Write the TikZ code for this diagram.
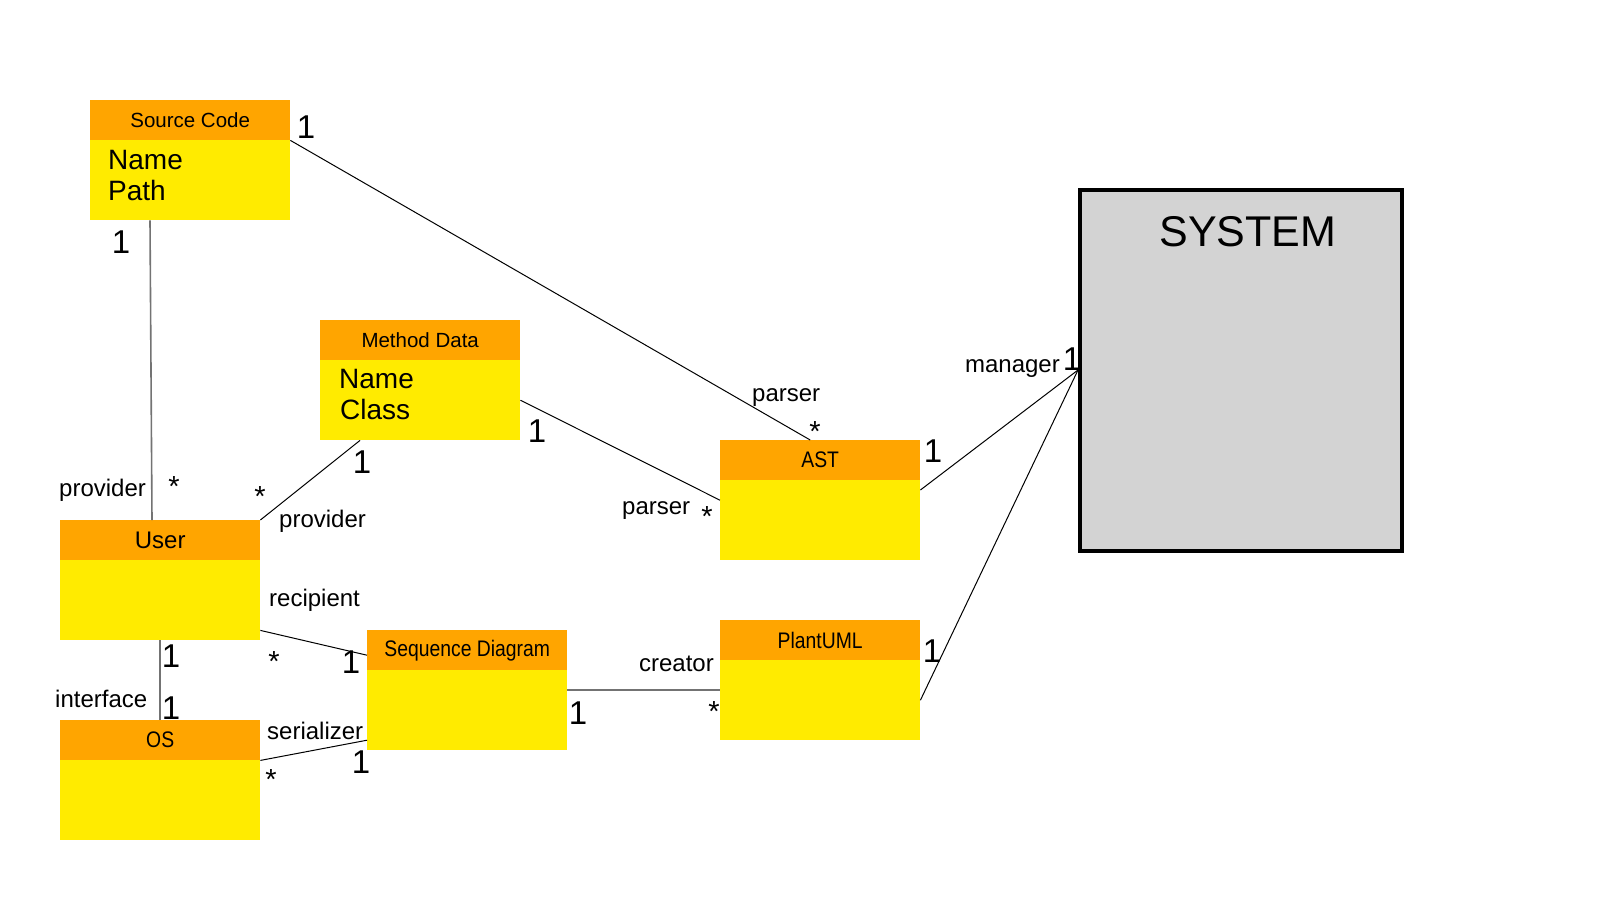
\documentclass[tikz,border=0pt]{standalone}
\usepackage{fontspec}
\setmainfont{Liberation Sans}
\newfontfamily\narrowfont[FakeStretch=0.86]{Liberation Sans}
\usetikzlibrary{calc}
\definecolor{hdr}{RGB}{255,165,0}
\definecolor{bdy}{RGB}{255,235,0}
\definecolor{sysgray}{RGB}{211,211,211}
\tikzset{
  hdrbox/.style={fill=hdr, minimum width=200pt, minimum height=40pt, inner sep=0pt, anchor=north west, font=\fontsize{20.5}{24}\selectfont},
  hdrnarrow/.style={hdrbox, font=\narrowfont\fontsize{22.5}{26}\selectfont},
  bdybox/.style={fill=bdy, minimum width=200pt, minimum height=80pt, inner sep=0pt, anchor=north west},
  bodytxt/.style={inner sep=0pt, anchor=base west, font=\fontsize{28}{31}\selectfont},
  lbl/.style={inner sep=0pt, font=\fontsize{24}{28}\selectfont},
  one/.style={inner sep=0pt, font=\fontsize{33}{36}\selectfont},
  star/.style={inner sep=0pt, font=\fontsize{29}{32}\selectfont},
  conn/.style={draw=black, line width=1pt},
  conngray/.style={draw=black!55, line width=1.6pt}
}
\begin{document}
\begin{tikzpicture}[x=1pt,y=-1pt]
\fill[white] (0,0) rectangle (1600,900);
\useasboundingbox (0,0) rectangle (1600,900);

% Classes
\node[hdrbox] (sc) at (90,100) {Source Code};
\node[bdybox] (scb) at (90,140) {};
\node[bodytxt] (scn) at (108,169) {Name};
\node[bodytxt] (scp) at (108,200) {Path};

\node[hdrbox] (md) at (320,320) {Method Data};
\node[bdybox] (mdb) at (320,360) {};
\node[bodytxt] (mdn) at (339,388) {Name};
\node[bodytxt] (mdc) at (340,419) {Class};

\node[hdrbox, font=\fontsize{24}{28}\selectfont] (user) at (60,520) {User};
\node[bdybox] (userb) at (60,560) {};

\node[hdrnarrow] (os) at (60,720) {OS};
\node[bdybox] (osb) at (60,760) {};

\node[hdrnarrow] (seq) at (367,630) {Sequence Diagram};
\node[bdybox] (seqb) at (367,670) {};

\node[hdrnarrow] (ast) at (720,440) {AST};
\node[bdybox] (astb) at (720,480) {};

\node[hdrnarrow] (plant) at (720,620) {PlantUML};
\node[bdybox] (plantb) at (720,660) {};

% System
\node[draw=black, line width=4pt, fill=sysgray, minimum width=322pt, minimum height=361pt, inner sep=0pt] (sys) at (1241,370) {};
\node[inner sep=0pt, anchor=base, font=\fontsize{43}{50}\selectfont] (systxt) at (1248,246) {SYSTEM};

% Connectors
\draw[conn] (sc.south east) -- ($(ast.north)+(-10,0)$);
\draw[conngray] ($(scb.south west)+(60,0)$) -- ($(user.north west)+(92,0)$);
\draw[conn] (mdb.east) -- ($(astb.west)+(0,-20)$);
\draw[conn] (user.north east) -- ($(mdb.south west)+(40,0)$);
\draw[conn] ($(userb.south east)+(0,-10)$) -- ($(seq.west)+(0,5)$);
\draw[conngray] (userb.south) -- (os.north);
\draw[conn] (os.south east) -- ($(seqb.west)+(0,30)$);
\draw[conngray] ($(seqb.east)+(0,-20)$) -- ($(plantb.west)+(0,-10)$);
\draw[conn] ($(astb.north east)+(0,10)$) -- (sys.west);
\draw[conn] (plantb.east) -- (sys.west);

% Role labels
\node[lbl, anchor=base west] (l1) at (59,496) {provider};
\node[lbl, anchor=base west] (l2) at (279,527) {provider};
\node[lbl, anchor=base west] (l3) at (269,606) {recipient};
\node[lbl, anchor=base west] (l4) at (55,707) {interface};
\node[lbl, anchor=base west] (l5) at (267,739) {serializer};
\node[lbl, anchor=base west] (l6) at (752,401) {parser};
\node[lbl, anchor=base west] (l7) at (622,514) {parser};
\node[lbl, anchor=base east] (l8) at (714,671) {creator};
\node[lbl, anchor=base east] (l9) at (1060,372) {manager};

% Multiplicities 1
\node[one] (o1) at (306,127) {1};
\node[one] (o2) at (121,242) {1};
\node[one] (o3) at (362,462) {1};
\node[one] (o4) at (537,431) {1};
\node[one] (o5) at (933,451) {1};
\node[one] (o6) at (1072,359) {1};
\node[one] (o7) at (171,656) {1};
\node[one] (o8) at (171,708) {1};
\node[one] (o9) at (351,662) {1};
\node[one] (o10) at (361,762) {1};
\node[one] (o11) at (578,713) {1};
\node[one] (o12) at (932,651) {1};

% Multiplicities *
\node[star] (s1) at (174,487) {*};
\node[star] (s2) at (260,497) {*};
\node[star] (s3) at (815,432) {*};
\node[star] (s4) at (707,517) {*};
\node[star] (s5) at (274,662) {*};
\node[star] (s6) at (271,780) {*};
\node[star] (s7) at (714,712) {*};
\end{tikzpicture}
\end{document}
